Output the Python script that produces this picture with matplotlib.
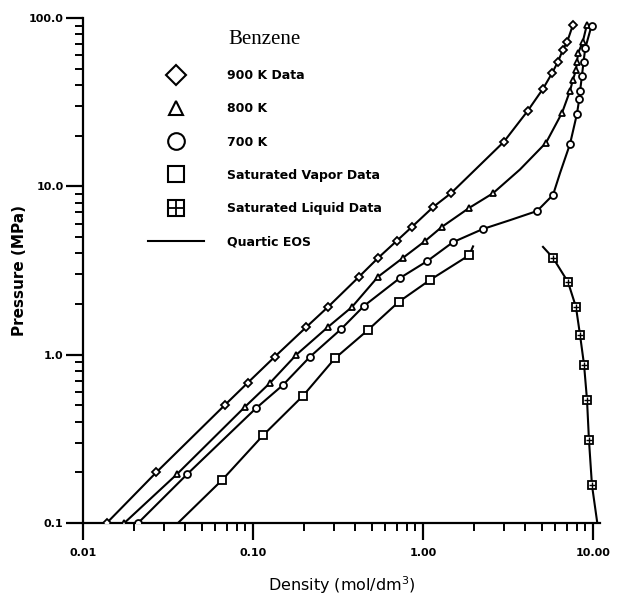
import numpy as np
import matplotlib.pyplot as plt
from matplotlib.lines import Line2D
from matplotlib.legend_handler import HandlerTuple

# isotherm data, density (mol/dm3) vs pressure (MPa)
rho_900 = [0.0138, 0.027, 0.068, 0.093, 0.134, 0.206, 0.276, 0.42, 0.545, 0.70, 0.86,
           1.15, 1.46, 2.99, 4.12, 5.08, 5.74, 6.22, 6.66, 7.04, 7.62]
p_900 = [0.1, 0.2, 0.5, 0.68, 0.97, 1.46, 1.92, 2.9, 3.76, 4.74, 5.74,
         7.55, 9.1, 18.4, 28.0, 38.0, 47.0, 55.0, 65.0, 72.0, 91.0]

rho_800 = [0.0175, 0.0357, 0.0897, 0.126, 0.18, 0.276, 0.382, 0.543, 0.762, 1.03, 1.29,
           1.87, 2.58, 5.30, 6.58, 7.33, 7.62, 7.94, 8.05, 8.18, 8.7, 9.2]
p_800 = [0.1, 0.195, 0.49, 0.68, 1.0, 1.46, 1.92, 2.9, 3.76, 4.74, 5.74,
         7.45, 9.1, 18.2, 27.4, 37.0, 43.0, 49.0, 55.0, 62.0, 72.0, 91.0]

rho_700 = [0.0211, 0.041, 0.104, 0.150, 0.216, 0.33, 0.45, 0.73, 1.06, 1.50, 2.25,
           4.69, 5.82, 7.33, 8.05, 8.3, 8.4, 8.6, 8.8, 9.0, 9.8]
p_700 = [0.1, 0.195, 0.48, 0.66, 0.97, 1.42, 1.95, 2.85, 3.6, 4.66, 5.58,
         7.14, 8.9, 17.9, 27.0, 33.0, 37.0, 45.0, 55.0, 66.0, 90.0]

# saturation curves
rho_vap = [0.0658, 0.115, 0.197, 0.303, 0.474, 0.72, 1.10, 1.87]
p_vap = [0.18, 0.333, 0.57, 0.95, 1.40, 2.06, 2.78, 3.9]
rho_liq = [5.82, 7.13, 7.94, 8.39, 8.86, 9.22, 9.47, 9.86]
p_liq = [3.76, 2.70, 1.92, 1.31, 0.87, 0.54, 0.31, 0.168]

# quartic EOS curves
eos_900_rho = rho_900
eos_900_p = p_900
eos_800_rho = rho_800[:13] + [3.72] + rho_800[13:]
eos_800_p = p_800[:13] + [12.6] + p_800[13:]
eos_700_rho = rho_700[:11] + [3.25] + rho_700[11:13] + [6.4] + rho_700[13:]
eos_700_p = p_700[:11] + [6.3] + p_700[11:13] + [12.0] + p_700[13:]
eos_vap_rho = [0.0362] + rho_vap + [1.97]
eos_vap_p = [0.1] + p_vap + [4.4]
eos_liq_rho = [5.08] + rho_liq + [10.6]
eos_liq_p = [4.37] + p_liq + [0.1]

fig = plt.figure(figsize=(6.17, 6.04), dpi=100)
ax = fig.add_axes([0.1345, 0.1341, 0.838, 0.836])

lw = 1.5
for xs, ys in [(eos_900_rho, eos_900_p), (eos_800_rho, eos_800_p), (eos_700_rho, eos_700_p),
               (eos_vap_rho, eos_vap_p), (eos_liq_rho, eos_liq_p)]:
    ax.plot(xs, ys, color='black', lw=lw, zorder=2)

mk = dict(ls='none', mfc='white', mec='black', mew=1.3, zorder=3)
ax.plot(rho_900, p_900, marker='D', ms=4, **mk)
ax.plot(rho_800, p_800, marker='^', ms=4.5, **mk)
ax.plot(rho_700, p_700, marker='o', ms=5, **mk)
ax.plot(rho_vap, p_vap, marker='s', ms=5.5, **mk)
ax.plot(rho_liq, p_liq, marker='s', ms=5.5, **mk)
ax.plot(rho_liq, p_liq, marker='+', ms=5, ls='none', mec='black', mew=1.0, zorder=4)

ax.set_xscale('log')
ax.set_yscale('log')
ax.set_xlim(0.01, 11)
ax.set_ylim(0.1, 100)

ax.spines['top'].set_visible(False)
ax.spines['right'].set_visible(False)
for s in ['left', 'bottom']:
    ax.spines[s].set_linewidth(1.6)

ax.set_xticks([0.01, 0.1, 1, 10])
ax.set_xticklabels(['0.01', '0.10', '1.00', '10.00'])
ax.set_yticks([0.1, 1, 10, 100])
ax.set_yticklabels(['0.1', '1.0', '10.0', '100.0'])
ax.tick_params(which='major', direction='out', length=12, width=1.6, labelsize=8)
ax.tick_params(axis='x', which='major', pad=6)
ax.tick_params(axis='y', which='major', pad=2)
ax.tick_params(which='minor', direction='out', length=5.5, width=1.4)
for lab in ax.get_xticklabels() + ax.get_yticklabels():
    lab.set_fontweight('bold')

ax.set_ylabel('Pressure (MPa)', fontsize=11, fontweight='bold', labelpad=1)
ax.set_xlabel('Density (mol/dm$^3$)', fontsize=11.5, labelpad=12)

big = dict(ls='none', mfc='white', mec='black', mew=1.5)
h_900 = Line2D([], [], marker='D', ms=10, **big)
h_800 = Line2D([], [], marker='^', ms=10, **big)
h_700 = Line2D([], [], marker='o', ms=12, **big)
h_vap = Line2D([], [], marker='s', ms=12, **big)
h_liq_sq = Line2D([], [], marker='s', ms=12, **big)
h_liq_pl = Line2D([], [], marker='+', ms=11, ls='none', mec='black', mew=1.3)
h_eos = Line2D([], [], color='black', lw=lw)

leg = ax.legend([h_900, h_800, h_700, h_vap, (h_liq_sq, h_liq_pl), h_eos],
                ['900 K Data', '800 K', '700 K', 'Saturated Vapor Data',
                 'Saturated Liquid Data', 'Quartic EOS'],
                handler_map={tuple: HandlerTuple(ndivide=1)},
                loc='upper left', bbox_to_anchor=(148 / 617, 1 - 69 / 604),
                bbox_transform=fig.transFigure, frameon=False,
                prop={'size': 9, 'weight': 'bold'}, handlelength=4.5,
                handletextpad=1.8, labelspacing=1.62, borderpad=0, borderaxespad=0)

fig.text(228 / 617, 1 - 40 / 604, 'Benzene', fontsize=15, family='Liberation Serif',
         va='center', ha='left')

fig.savefig('out.png', dpi=100)
